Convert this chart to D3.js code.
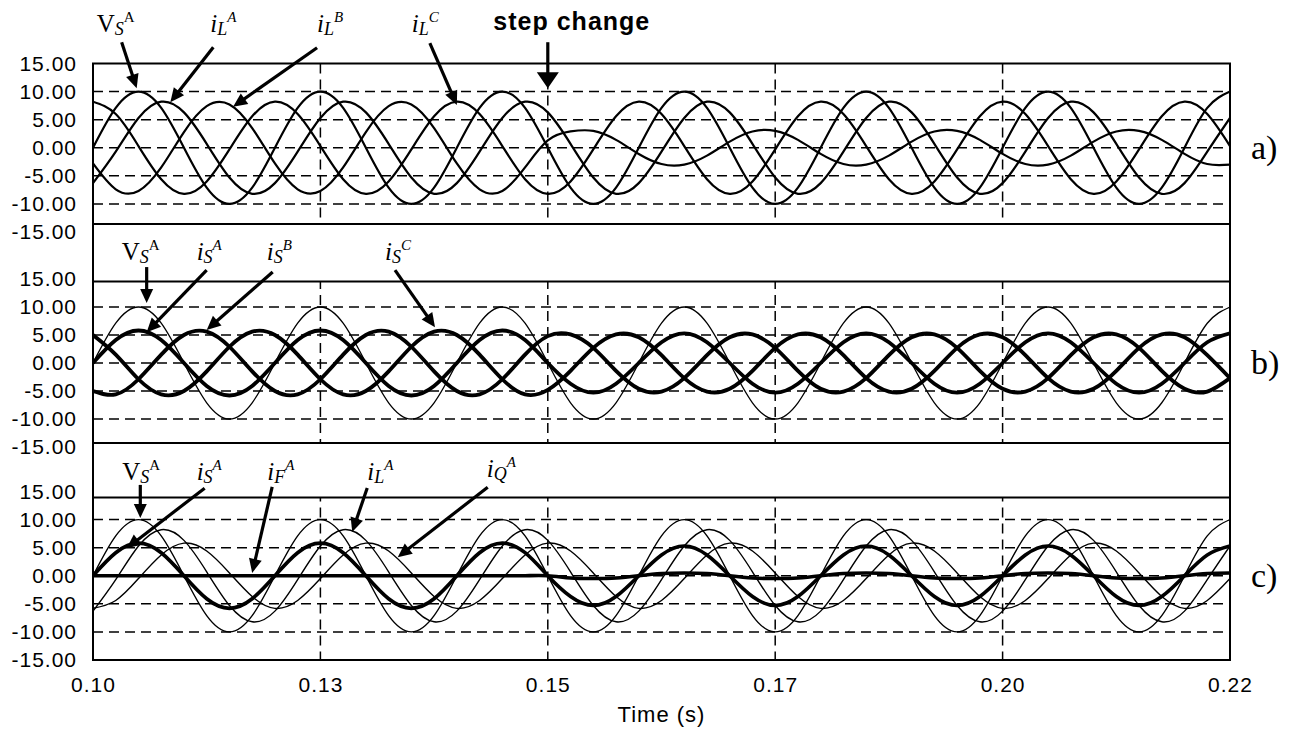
<!DOCTYPE html>
<html>
<head>
<meta charset="utf-8">
<title>Source voltage and currents with step change</title>
<script src="https://d3js.org/d3.v7.min.js"></script>
<style>
  body { margin: 0; background: #fff; }
  svg { display: block; }
  .tick text { font-family: "Liberation Sans", Arial, sans-serif; font-size: 21px; letter-spacing: 1px; fill: #000; }
  .grid line { stroke: #000; stroke-width: 1.5; stroke-dasharray: 10,6; }
  .frame { fill: none; stroke: #000; stroke-width: 2; }
  .band { fill: #fff; stroke: #000; stroke-width: 2; }
  .wave { fill: none; stroke: #000; stroke-linejoin: round; }
  .lbl { font-family: "Liberation Serif", "Times New Roman", serif; fill: #000; }
</style>
</head>
<body>
<div id="chart"></div>
<script>
// sample times (s), one sample every 2.5 ms
const time = [0.1, 0.1025, 0.105, 0.1075, 0.11, 0.1125, 0.115, 0.1175, 0.12, 0.1225,
  0.125, 0.1275, 0.13, 0.1325, 0.135, 0.1375, 0.14, 0.1425, 0.145, 0.1475,
  0.15, 0.1525, 0.155, 0.1575, 0.16, 0.1625, 0.165, 0.1675, 0.17, 0.1725,
  0.175, 0.1775, 0.18, 0.1825, 0.185, 0.1875, 0.19, 0.1925, 0.195, 0.1975,
  0.2, 0.2025, 0.205, 0.2075, 0.21, 0.2125, 0.215, 0.2175, 0.22, 0.2225, 0.225];

// source voltage, phase A
const vsA = [0, 7.1, 10, 7.1, 0, -7.1, -10, -7.1,
  0, 7.1, 10, 7.1, 0, -7.1, -10, -7.1,
  0, 7.1, 10, 7.1, 0, -7.1, -10, -7.1,
  0, 7.1, 10, 7.1, 0, -7.1, -10, -7.1,
  0, 7.1, 10, 7.1, 0, -7.1, -10, -7.1,
  0, 7.1, 10, 7.1, 0, -7.1, -10, -7.1,
  0, 7.1, 10];

// load currents
const ilA = [-6.3, -0.7, 5.3, 8.2, 6.3, 0.7, -5.3, -8.2,
  -6.3, -0.7, 5.3, 8.2, 6.3, 0.7, -5.3, -8.2,
  -6.3, -0.7, 5.3, 8.2, 6.3, 0.7, -5.3, -8.2,
  -6.3, -0.7, 5.3, 8.2, 6.3, 0.7, -5.3, -8.2,
  -6.3, -0.7, 5.3, 8.2, 6.3, 0.7, -5.3, -8.2,
  -6.3, -0.7, 5.3, 8.2, 6.3, 0.7, -5.3, -8.2,
  -6.3, -0.7, 5.3];
const ilB = [-2.8, -7.4, -7.7, -3.5, 2.8, 7.4, 7.7, 3.5,
  -2.8, -7.4, -7.7, -3.5, 2.8, 7.4, 7.7, 3.5,
  -2.8, -7.4, -7.7, -3.5, 1.3, 2.9, 3.0, 1.4,
  -1.1, -2.9, -3.0, -1.4, 1.1, 2.9, 3.0, 1.4,
  -1.1, -2.9, -3.0, -1.4, 1.1, 2.9, 3.0, 1.4,
  -1.1, -2.9, -3.0, -1.4, 1.1, 2.9, 3.0, 1.4,
  -1.1, -2.9, -3.0];
const ilC = [8.2, 6.0, 0.3, -5.6, -8.2, -6.0, -0.3, 5.6,
  8.2, 6.0, 0.3, -5.6, -8.2, -6.0, -0.3, 5.6,
  8.2, 6.0, 0.3, -5.6, -8.2, -6.0, -0.3, 5.6,
  8.2, 6.0, 0.3, -5.6, -8.2, -6.0, -0.3, 5.6,
  8.2, 6.0, 0.3, -5.6, -8.2, -6.0, -0.3, 5.6,
  8.2, 6.0, 0.3, -5.6, -8.2, -6.0, -0.3, 5.6,
  8.2, 6.0, 0.3];

// source currents
const isA = [0, 4.1, 5.8, 4.1, 0, -4.1, -5.8, -4.1,
  0, 4.1, 5.8, 4.1, 0, -4.1, -5.8, -4.1,
  0, 4.1, 5.8, 4.1, 0, -3.7, -5.3, -3.7,
  0, 3.7, 5.3, 3.7, 0, -3.7, -5.3, -3.7,
  0, 3.7, 5.3, 3.7, 0, -3.7, -5.3, -3.7,
  0, 3.7, 5.3, 3.7, 0, -3.7, -5.3, -3.7,
  0, 3.7, 5.3];
const isB = [-5.0, -5.6, -2.9, 1.5, 5.0, 5.6, 2.9, -1.5,
  -5.0, -5.6, -2.9, 1.5, 5.0, 5.6, 2.9, -1.5,
  -5.0, -5.6, -2.9, 1.5, 4.8, 5.1, 2.7, -1.4,
  -4.6, -5.1, -2.7, 1.4, 4.6, 5.1, 2.7, -1.4,
  -4.6, -5.1, -2.7, 1.4, 4.6, 5.1, 2.7, -1.4,
  -4.6, -5.1, -2.7, 1.4, 4.6, 5.1, 2.7, -1.4,
  -4.6, -5.1, -2.7];
const isC = [5.0, 1.5, -2.9, -5.6, -5.0, -1.5, 2.9, 5.6,
  5.0, 1.5, -2.9, -5.6, -5.0, -1.5, 2.9, 5.6,
  5.0, 1.5, -2.9, -5.6, -4.8, -1.4, 2.7, 5.1,
  4.6, 1.4, -2.7, -5.1, -4.6, -1.4, 2.7, 5.1,
  4.6, 1.4, -2.7, -5.1, -4.6, -1.4, 2.7, 5.1,
  4.6, 1.4, -2.7, -5.1, -4.6, -1.4, 2.7, 5.1,
  4.6, 1.4, -2.7];

// filter current and reactive compensator current, phase A
const ifA = [0, 0, 0, 0, 0, 0, 0, 0,
  0, 0, 0, 0, 0, 0, 0, 0,
  0, 0, 0, 0, 0, -0.4, -0.5, -0.4,
  0, 0.4, 0.5, 0.4, 0, -0.4, -0.5, -0.4,
  0, 0.4, 0.5, 0.4, 0, -0.4, -0.5, -0.4,
  0, 0.4, 0.5, 0.4, 0, -0.4, -0.5, -0.4,
  0, 0.4, 0.5];
const iqA = [-5.8, -4.4, -0.5, 3.7, 5.8, 4.4, 0.5, -3.7,
  -5.8, -4.4, -0.5, 3.7, 5.8, 4.4, 0.5, -3.7,
  -5.8, -4.4, -0.5, 3.7, 5.8, 4.4, 0.5, -3.7,
  -5.8, -4.4, -0.5, 3.7, 5.8, 4.4, 0.5, -3.7,
  -5.8, -4.4, -0.5, 3.7, 5.8, 4.4, 0.5, -3.7,
  -5.8, -4.4, -0.5, 3.7, 5.8, 4.4, 0.5, -3.7,
  -5.8, -4.4, -0.5];

// axes
const xTicks = [0.1, 0.125, 0.15, 0.175, 0.2, 0.225];
const xTickLabels = ["0.10", "0.13", "0.15", "0.17", "0.20", "0.22"];
const yTicks = [-15, -10, -5, 0, 5, 10, 15];
const yTickLabels = ["-15.00", "-10.00", "-5.00", "0.00", "5.00", "10.00", "15.00"];
const yGrid = [-10, -5, 0, 5, 10];
const panelNames = ["a)", "b)", "c)"];

// layout
const W = 1291, H = 729;
const xLeft = 93, xRight = 1230;
const boxes = [
  { top: 63.5, bottom: 232 },
  { top: 279, bottom: 447 },
  { top: 491.5, bottom: 660 }
];
const bands = [{ top: 224, bottom: 281.5 }, { top: 443, bottom: 497.5 }];

const panels = [
  [{ v: vsA, w: 2.2 }, { v: ilA, w: 2.2 }, { v: ilB, w: 2.2 }, { v: ilC, w: 2.2 }],
  [{ v: vsA, w: 1.3 }, { v: isA, w: 3.8 }, { v: isB, w: 3.8 }, { v: isC, w: 3.8 }],
  [{ v: vsA, w: 1.4 }, { v: ilA, w: 1.4 }, { v: iqA, w: 1.4 }, { v: isA, w: 3.6 }, { v: ifA, w: 3.6 }]
];

const svg = d3.select("#chart").append("svg")
  .attr("width", W).attr("height", H);

const x = d3.scaleLinear().domain([0.1, 0.225]).range([xLeft, xRight]);
const yScales = [];

boxes.forEach((b, i) => {
  const y = d3.scaleLinear().domain([-15, 15]).range([b.bottom, b.top]);
  yScales.push(y);
  const g = svg.append("g");

  svg.append("clipPath").attr("id", "clip" + i)
    .append("rect")
    .attr("x", xLeft).attr("y", b.top)
    .attr("width", xRight - xLeft).attr("height", b.bottom - b.top);

  // dashed grid
  g.append("g").attr("class", "grid")
    .selectAll("line").data(yGrid).join("line")
    .attr("x1", xLeft).attr("x2", xRight)
    .attr("y1", (d) => y(d)).attr("y2", (d) => y(d));
  g.append("g").attr("class", "grid")
    .selectAll("line").data(xTicks.slice(1, -1)).join("line")
    .attr("x1", (d) => x(d)).attr("x2", (d) => x(d))
    .attr("y1", b.top).attr("y2", b.bottom);

  // waveforms
  const line = d3.line()
    .x((d, k) => x(time[k]))
    .y((d) => y(d))
    .curve(d3.curveNatural);
  g.append("g").attr("clip-path", `url(#clip${i})`)
    .selectAll("path").data(panels[i]).join("path")
    .attr("class", "wave")
    .attr("stroke-width", (s) => s.w)
    .attr("d", (s) => line(s.v));

  g.append("rect").attr("class", "frame")
    .attr("x", xLeft).attr("y", b.top)
    .attr("width", xRight - xLeft).attr("height", b.bottom - b.top);

  // y axis labels
  g.append("g")
    .attr("transform", `translate(${xLeft},0)`)
    .call(d3.axisLeft(y).tickValues(yTicks)
      .tickFormat((d, j) => yTickLabels[j]).tickSize(0).tickPadding(16))
    .call((a) => a.select(".domain").remove());

  // panel letter
  svg.append("text")
    .attr("class", "lbl")
    .attr("x", 1251).attr("y", y(0) + 11)
    .attr("font-size", 34)
    .text(panelNames[i]);
});

// label strips between the panels
svg.selectAll("rect.band").data(bands).join("rect")
  .attr("class", "band")
  .attr("x", xLeft).attr("y", (d) => d.top)
  .attr("width", xRight - xLeft).attr("height", (d) => d.bottom - d.top);

// x axis under the last panel
svg.append("g")
  .attr("transform", `translate(0,${boxes[2].bottom})`)
  .call(d3.axisBottom(x).tickValues(xTicks)
    .tickFormat((d, j) => xTickLabels[j]).tickSize(0).tickPadding(17))
  .call((a) => a.select(".domain").remove());

svg.append("text")
  .attr("x", (xLeft + xRight) / 2).attr("y", 722)
  .attr("text-anchor", "middle")
  .style("font-family", "'Liberation Sans', Arial, sans-serif")
  .style("font-size", "22px")
  .style("letter-spacing", "1px")
  .text("Time (s)");

// arrows with labels; tip is given in data units of its panel
const notes = [
  { p: 0, main: "V", sub: "S", sup: "A", up: true, t: 0.1048, v: 10.6, tail: [-15, -46], at: [-40, -56] },
  { p: 0, main: "i", sub: "L", sup: "A", t: 0.1085, v: 8.1, tail: [43, -55], at: [40, -70] },
  { p: 0, main: "i", sub: "L", sup: "B", t: 0.1154, v: 7.3, tail: [84, -59], at: [84, -75] },
  { p: 0, main: "i", sub: "L", sup: "C", t: 0.1400, v: 7.6, tail: [-27, -62], at: [-45, -73] },
  { p: 1, main: "V", sub: "S", sup: "A", up: true, t: 0.1059, v: 10.7, tail: [0, -36], at: [-25, -43] },
  { p: 1, main: "i", sub: "S", sup: "A", t: 0.1059, v: 5.5, tail: [60, -62], at: [50, -72] },
  { p: 1, main: "i", sub: "S", sup: "B", t: 0.1125, v: 5.9, tail: [66, -58], at: [60, -70] },
  { p: 1, main: "i", sub: "S", sup: "C", t: 0.1376, v: 6.4, tail: [-40, -57], at: [-50, -67] },
  { p: 2, main: "V", sub: "S", sup: "A", up: true, t: 0.1052, v: 10.3, tail: [0, -33], at: [-18, -38] },
  { p: 2, main: "i", sub: "S", sup: "A", t: 0.1037, v: 4.9, tail: [78, -60], at: [70, -68] },
  { p: 2, main: "i", sub: "F", sup: "A", t: 0.1175, v: 0.5, tail: [20, -86], at: [15, -93] },
  { p: 2, main: "i", sub: "L", sup: "A", t: 0.1285, v: 7.8, tail: [15, -44], at: [15, -52] },
  { p: 2, main: "i", sub: "Q", sup: "A", t: 0.1335, v: 3.3, tail: [90, -70], at: [89, -80] }
];

function arrow(g, x1, y1, x2, y2, len, half) {
  const dx = x2 - x1, dy = y2 - y1, L = Math.hypot(dx, dy);
  const ux = dx / L, uy = dy / L;
  const bx = x2 - ux * len, by = y2 - uy * len;
  g.append("line")
    .attr("x1", x1).attr("y1", y1).attr("x2", bx + ux * 2).attr("y2", by + uy * 2)
    .attr("stroke", "#000").attr("stroke-width", 3.2);
  g.append("path")
    .attr("d", `M${x2},${y2}L${bx - uy * half},${by + ux * half}L${bx + uy * half},${by - ux * half}Z`)
    .attr("fill", "#000");
}

const ann = svg.append("g");
notes.forEach((n) => {
  const tx = x(n.t), ty = yScales[n.p](n.v);
  arrow(ann, tx + n.tail[0], ty + n.tail[1], tx, ty, 14, 6.5);
  const t = ann.append("text").attr("class", "lbl")
    .attr("x", tx + n.at[0]).attr("y", ty + n.at[1]);
  t.append("tspan").attr("font-size", 25)
    .attr("font-style", n.up ? "normal" : "italic").text(n.main);
  t.append("tspan").attr("font-size", 18).attr("font-style", "italic")
    .attr("dy", 3).text(n.sub);
  t.append("tspan").attr("font-size", 15)
    .attr("font-style", n.up ? "normal" : "italic")
    .attr("dy", -13).text(n.sup);
});

// step change marker
const stepX = x(0.15), stepY = yScales[0](10.6);
arrow(ann, stepX, stepY - 46, stepX, stepY, 16, 11);
ann.append("text")
  .attr("x", stepX + 24).attr("y", stepY - 58)
  .attr("text-anchor", "middle")
  .style("font-family", "'Liberation Sans', Arial, sans-serif")
  .style("font-size", "25px").style("font-weight", "bold")
  .style("letter-spacing", "1px")
  .text("step change");
</script>
</body>
</html>
